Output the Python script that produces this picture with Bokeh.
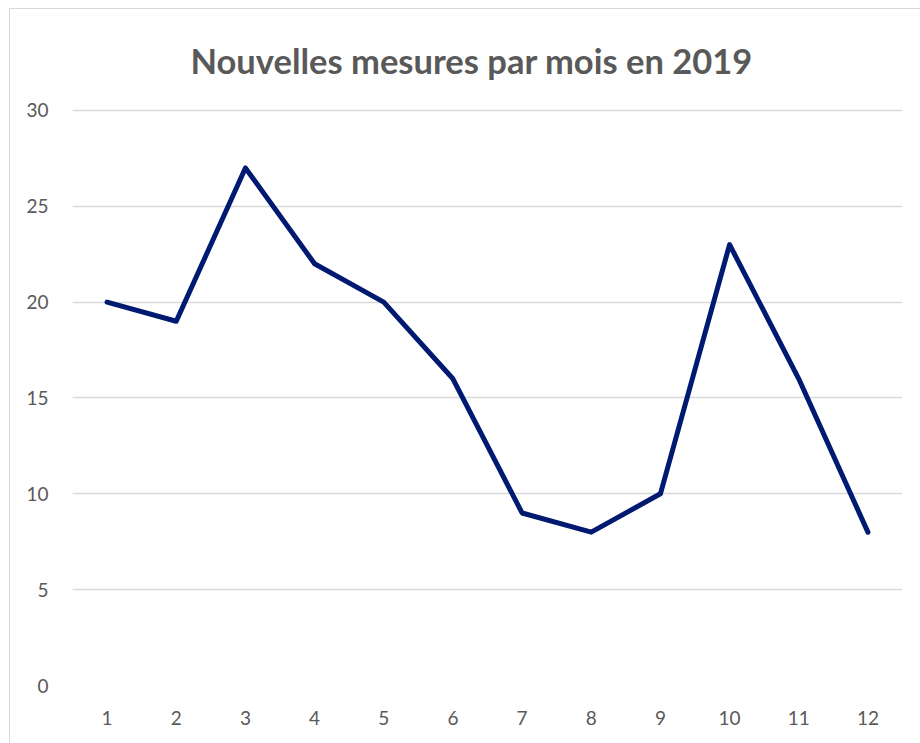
from bokeh.plotting import figure
from bokeh.models import Range1d, FixedTicker
from bokeh.embed import file_html
from bokeh.resources import INLINE

months = [1, 2, 3, 4, 5, 6, 7, 8, 9, 10, 11, 12]
values = [20, 19, 27, 22, 20, 16, 9, 8, 10, 23, 16, 8]
y_ticks = [0, 5, 10, 15, 20, 25, 30]
title_text = "Nouvelles mesures par mois en 2019"

p = figure(width=911, height=735, output_backend="svg", toolbar_location=None,
           x_range=Range1d(0.5, 12.5), y_range=Range1d(0, 30.1),
           min_border_left=62, min_border_right=19, min_border_top=98, min_border_bottom=59)
p.styles = {"margin-left": "9px", "margin-top": "8px",
            "border-left": "1px solid #d9d9d9", "border-top": "1px solid #d9d9d9"}

p.title.text = title_text
p.title.align = "left"
p.title.offset = 118
p.title.standoff = 56
p.title.text_font = "Lato"
p.title.text_font_style = "bold"
p.title.text_font_size = "34.5px"
p.title.text_color = "#595959"

p.line(months, values, line_color="#001a72", line_width=5, line_join="round", line_cap="round")

p.outline_line_color = None
p.xgrid.grid_line_color = None
p.ygrid.grid_line_color = "#d9d9d9"
p.ygrid.grid_line_width = 1.5

for ax in (p.xaxis[0], p.yaxis[0]):
    ax.axis_line_color = None
    ax.major_tick_line_color = None
    ax.minor_tick_line_color = None
    ax.major_label_text_font = "Lato"
    ax.major_label_text_font_size = "19px"
    ax.major_label_text_color = "#595959"

p.xaxis.ticker = FixedTicker(ticks=months)
p.yaxis.ticker = FixedTicker(ticks=y_ticks)
p.xaxis.major_label_standoff = 19
p.yaxis.major_label_standoff = 18

open("out.html", "w").write(file_html(p, INLINE))
